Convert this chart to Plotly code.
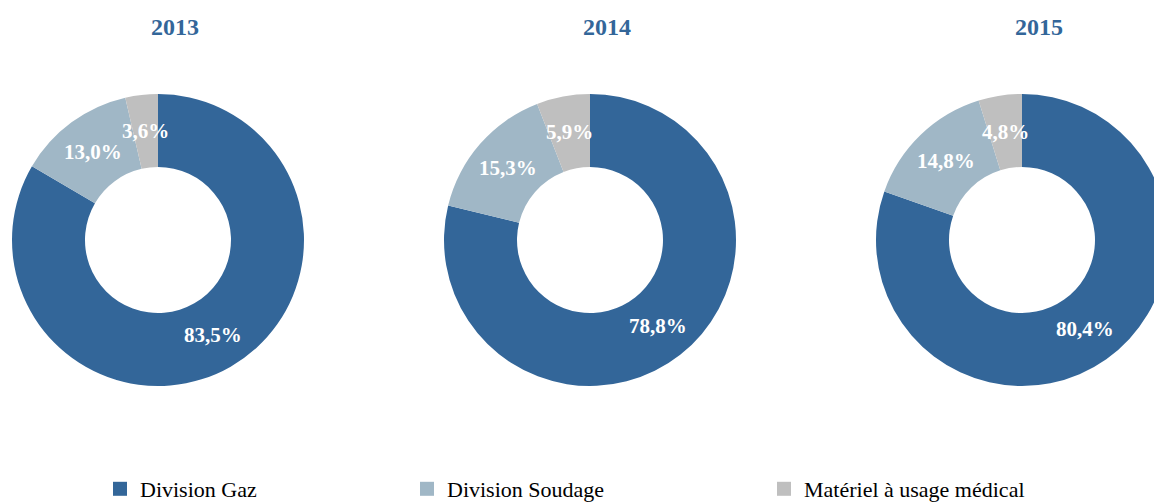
import math
import plotly.graph_objects as go

years = ["2013", "2014", "2015"]
labels = ["Division Gaz", "Division Soudage", "Matériel à usage médical"]
gaz = [83.5, 78.8, 80.4]
soudage = [13.0, 15.3, 14.8]
medical = [3.6, 5.9, 4.8]

colors = ["#336699", "#A0B7C6", "#BFBFBF"]
FONT = "Liberation Serif"

W, H = 1190, 502
centers_x = [158, 590, 1022]
cy = 240
R = 146
HOLE = 0.5

fig = go.Figure()
annotations = []

for i, year in enumerate(years):
    vals = [gaz[i], soudage[i], medical[i]]
    cx = centers_x[i]
    fig.add_trace(go.Pie(
        labels=labels,
        values=vals,
        hole=HOLE,
        sort=False,
        direction="clockwise",
        rotation=0,
        marker=dict(colors=colors, line=dict(width=0)),
        textinfo="none",
        hoverinfo="label+percent",
        domain=dict(x=[(cx - R) / W, (cx + R) / W],
                    y=[1 - (cy + R) / H, 1 - (cy - R) / H]),
        showlegend=False,
    ))
    # year title
    annotations.append(dict(
        text="<b>%s</b>" % year, x=(cx + 17) / W, y=1 - 27 / H,
        xref="paper", yref="paper", xanchor="center", yanchor="middle",
        showarrow=False,
        font=dict(family=FONT, size=24, color="#336699"),
    ))
    # slice labels at mid-ring
    total = sum(vals)
    cum = 0
    rr = R * (1 + HOLE) / 2
    for v in vals:
        th = 2 * math.pi * (cum + v / 2) / total
        cum += v
        px = cx + rr * math.sin(th)
        py = cy - rr * math.cos(th)
        annotations.append(dict(
            text="<b>%s%%</b>" % ("%.1f" % v).replace(".", ","),
            x=px / W, y=1 - py / H, xref="paper", yref="paper",
            xanchor="center", yanchor="middle",
            showarrow=False,
            font=dict(family=FONT, size=21, color="white"),
        ))

# legend entries, one legend each so they can sit where the original has them
legend_names = ["legend", "legend2", "legend3"]
legend_x = [100, 407, 764]
for lab, col, lg in zip(labels, colors, legend_names):
    fig.add_trace(go.Scatter(
        x=[None], y=[None], mode="markers", name=lab,
        marker=dict(symbol="square", size=14, color=col),
        legend=lg, showlegend=True, hoverinfo="skip",
    ))

legend_common = dict(
    orientation="h", xanchor="left", yanchor="middle",
    y=1 - 489 / H,
    font=dict(family=FONT, size=22, color="black"),
    bgcolor="rgba(0,0,0,0)", itemclick=False, itemdoubleclick=False,
)

fig.update_layout(
    width=W, height=H,
    margin=dict(l=0, r=0, t=0, b=0, autoexpand=False),
    paper_bgcolor="white",
    plot_bgcolor="white",
    annotations=annotations,
    xaxis=dict(visible=False),
    yaxis=dict(visible=False),
    legend=dict(x=legend_x[0] / W, **legend_common),
    legend2=dict(x=legend_x[1] / W, **legend_common),
    legend3=dict(x=legend_x[2] / W, **legend_common),
)

fig.write_html("out.html",
               config={"displayModeBar": False},
               post_script="document.body.style.margin='0';"
                           "document.body.style.overflow='hidden';")
